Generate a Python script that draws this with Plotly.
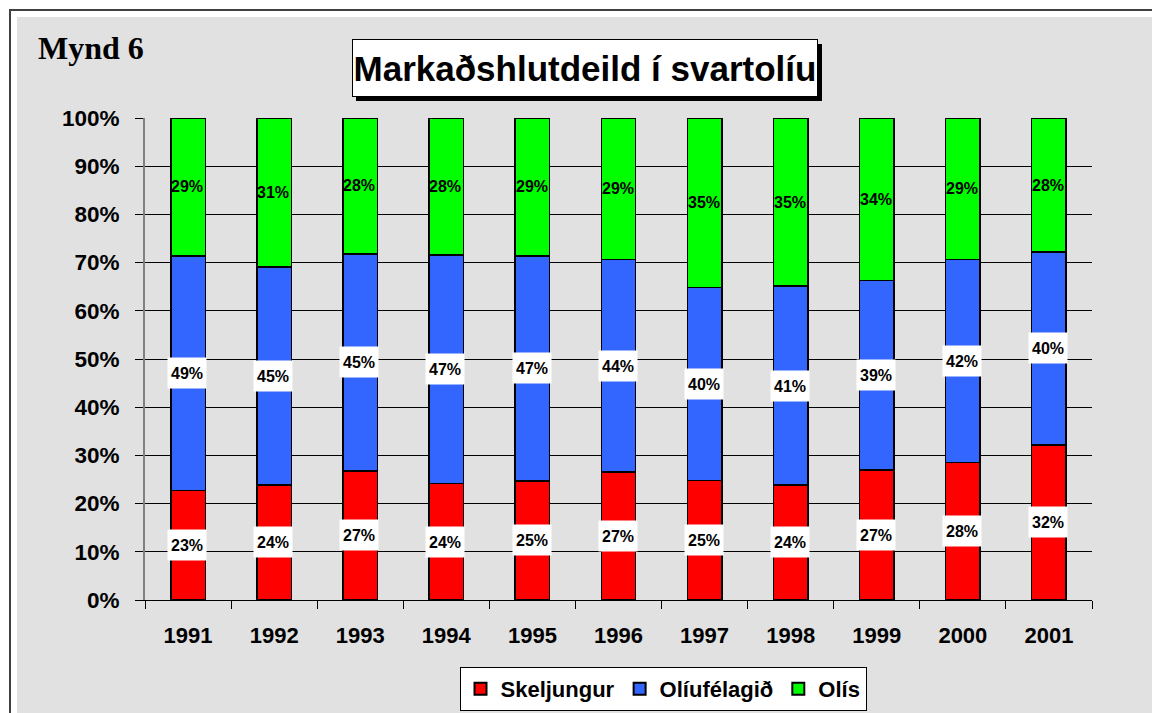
import plotly.graph_objects as go

years = ["1991", "1992", "1993", "1994", "1995", "1996", "1997", "1998", "1999", "2000", "2001"]
skeljungur = [22.7, 23.9, 26.8, 24.2, 24.7, 26.6, 24.8, 23.9, 27.0, 28.5, 32.2]
oliufelagid = [48.7, 45.2, 45.0, 47.4, 46.7, 44.0, 40.0, 41.2, 39.3, 42.1, 40.0]
olis = [28.6, 30.9, 28.2, 28.4, 28.6, 29.4, 35.2, 34.9, 33.7, 29.4, 27.8]

series_names = ["Skeljungur", "Olíufélagið", "Olís"]
series_colors = ["#ff0000", "#3366ff", "#00ff00"]
y_ticks = list(range(0, 101, 10))

W, H = 1152, 713
L, R, T, B = 145, 1092, 118, 600
PW, PH = R - L, B - T


def px(x):
    # x in screenshot pixels -> paper coordinate
    return (x - L) / PW


def py(y):
    return (B - y) / PH


fig = go.Figure()
for name, vals, col in zip(series_names, [skeljungur, oliufelagid, olis], series_colors):
    fig.add_trace(go.Bar(
        x=years, y=vals, name=f"<b>{name}</b>",
        marker=dict(color=col, line=dict(color="#000000", width=1.5)),
        hoverinfo="skip",
    ))

annotations = []
for i, yr in enumerate(years):
    base = 0
    for k, vals in enumerate([skeljungur, oliufelagid, olis]):
        v = vals[i]
        mid = base + v / 2
        base += v
        a = dict(x=i - 0.01, y=mid, xref="x", yref="y", text=f"<b>{round(v):d}%</b>", showarrow=False,
                 font=dict(family="Liberation Sans, Arial", size=16, color="#000000"))
        if k < 2:
            a.update(bgcolor="#ffffff", width=36, height=28)
        annotations.append(a)

# Title box
annotations.append(dict(
    x=px(585), y=py(68), xref="paper", yref="paper", xanchor="center", yanchor="middle",
    text="<b>Markaðshlutdeild í svartolíu</b>", showarrow=False,
    font=dict(family="Liberation Sans, Arial", size=35, color="#000000"),
    bgcolor="#ffffff", bordercolor="#000000", borderwidth=1, width=462, height=54,
))
annotations.append(dict(
    x=px(36), y=py(48), xref="paper", yref="paper", xanchor="left", yanchor="middle",
    text="<b>Mynd 6</b>", showarrow=False,
    font=dict(family="Liberation Serif, Times New Roman", size=32, color="#000000"),
))

shapes = [
    dict(type="rect", xref="paper", yref="paper", layer="below",
         x0=px(10), x1=px(1220), y0=py(780), y1=py(10),
         line=dict(color="#404040", width=2), fillcolor="#ffffff"),
    dict(type="rect", xref="paper", yref="paper", layer="below",
         x0=px(17), x1=px(1220), y0=py(780), y1=py(17),
         line=dict(width=0), fillcolor="#e1e1e1"),
    dict(type="rect", xref="paper", yref="paper", layer="above",
         x0=px(356), x1=px(822), y0=py(101), y1=py(44),
         line=dict(width=0), fillcolor="#000000"),
]

fig.update_layout(
    width=W, height=H,
    margin=dict(l=L, r=W - R, t=T, b=H - B, autoexpand=False),
    paper_bgcolor="#ffffff",
    plot_bgcolor="#ffffc4",
    barmode="stack",
    bargap=0.6,
    showlegend=True,
    legend=dict(
        orientation="h", x=px(663), xanchor="center", y=py(689), yanchor="middle",
        bgcolor="#ffffff", bordercolor="#000000", borderwidth=1,
        font=dict(family="Liberation Sans, Arial", size=22, color="#000000"),
        traceorder="normal", itemsizing="constant",
    ),
    annotations=annotations,
    shapes=shapes,
    xaxis=dict(
        type="category", range=[-0.5, len(years) - 0.5], tickson="boundaries",
        ticks="outside", ticklen=8, automargin=False,
        tickcolor="#000000", showline=True, linecolor="#000000", linewidth=1,
        showgrid=False, ticklabelstandoff=16, tickangle=0,
        tickvals=years, ticktext=[f"<b>{y}</b>" for y in years],
        tickfont=dict(family="Liberation Sans, Arial", size=22, color="#000000"),
    ),
    yaxis=dict(
        range=[0, 100], tickvals=y_ticks, ticktext=[f"<b>{v}%</b>" for v in y_ticks],
        ticks="outside", ticklen=8, tickcolor="#000000", automargin=False,
        showline=True, linecolor="#808080", linewidth=2,
        showgrid=True, gridcolor="#000000", gridwidth=1, zeroline=False,
        ticklabelstandoff=11,
        tickfont=dict(family="Liberation Sans, Arial", size=22.5, color="#000000"),
    ),
    font=dict(family="Liberation Sans, Arial", color="#000000"),
)

page_css = ("document.body.style.margin='0';"
            "document.documentElement.style.overflow='hidden';"
            "document.body.style.overflow='hidden';")

fig.write_html("out.html", post_script=page_css, config={"displayModeBar": False})
